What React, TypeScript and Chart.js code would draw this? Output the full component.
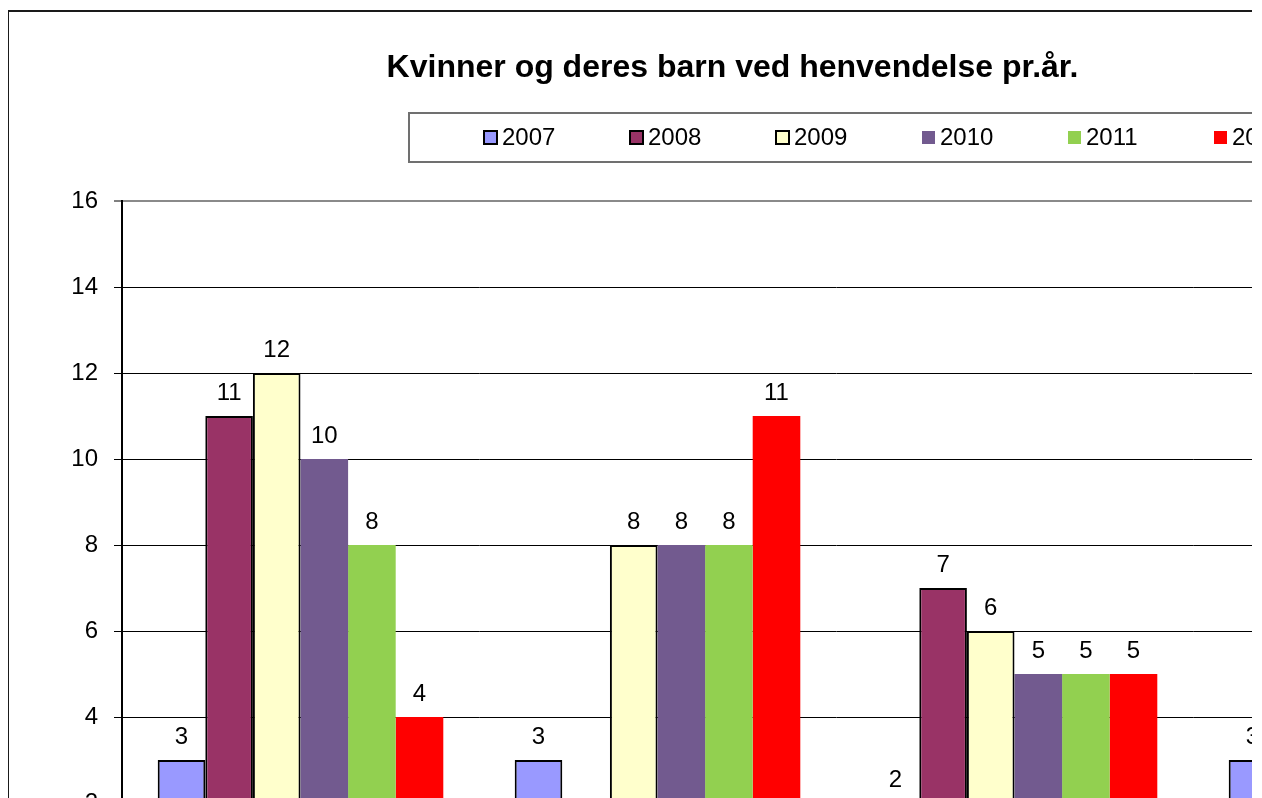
import React, { useEffect, useRef } from "react";
import { Chart, registerables } from "chart.js";

Chart.register(...registerables);

const TITLE = "Kvinner og deres barn ved henvendelse pr.år.";
const categories = ["Kvinner", "Barn", "Kvinner med barn", "Andre"];
const years = ["2007", "2008", "2009", "2010", "2011", "2012"];
const values2007 = [3, 3, 2, 3];
const values2008 = [11, null, 7, 4];
const values2009 = [12, 8, 6, 5];
const values2010 = [10, 8, 5, 4];
const values2011 = [8, 8, 5, 3];
const values2012 = [4, 11, 5, 2];
const seriesValues = [values2007, values2008, values2009, values2010, values2011, values2012];
const seriesColors = ["#9999FF", "#993366", "#FFFFCC", "#725A8F", "#92D050", "#FF0000"];
const seriesBorders = [2, 2, 2, 0, 0, 0];
const yTicks = [0, 2, 4, 6, 8, 10, 12, 14, 16];

const FONT = "'Liberation Sans', Arial, sans-serif";
const W = 1600;
const H = 1000;

const decorPlugin = {
  id: "decor",
  beforeDraw(chart: any) {
    const ctx = chart.ctx;
    ctx.save();
    ctx.fillStyle = "#ffffff";
    ctx.fillRect(0, 0, chart.width, chart.height);
    ctx.restore();
  },
  afterDatasetsDraw(chart: any) {
    const ctx = chart.ctx;
    ctx.save();
    ctx.font = `24px ${FONT}`;
    ctx.fillStyle = "#000000";
    ctx.textAlign = "center";
    ctx.textBaseline = "alphabetic";
    chart.data.datasets.forEach((ds: any, i: number) => {
      const meta = chart.getDatasetMeta(i);
      meta.data.forEach((el: any, j: number) => {
        const v = ds.data[j];
        if (v === null || v === undefined) return;
        ctx.fillText(String(v), el.x, el.y - 16);
      });
    });
    ctx.restore();
  },
  afterDraw(chart: any) {
    const ctx = chart.ctx;
    ctx.save();
    // outer frame
    ctx.strokeStyle = "#1a1a1a";
    ctx.lineWidth = 2;
    ctx.strokeRect(1, 1, chart.width - 2, chart.height - 2);
    // title
    ctx.font = `bold 32px ${FONT}`;
    ctx.fillStyle = "#000000";
    ctx.textAlign = "center";
    ctx.textBaseline = "alphabetic";
    ctx.fillText(TITLE, 725.5, 67);
    // legend box
    ctx.strokeStyle = "#707070";
    ctx.lineWidth = 2;
    ctx.strokeRect(402, 103, 960, 49);
    ctx.font = `24px ${FONT}`;
    ctx.textAlign = "left";
    ctx.textBaseline = "middle";
    chart.data.datasets.forEach((ds: any, i: number) => {
      const x = 477 + i * 146;
      const y = 121;
      ctx.fillStyle = ds.backgroundColor;
      ctx.fillRect(x, y, 13, 13);
      if (ds.borderWidth > 0) {
        ctx.strokeStyle = "#000000";
        ctx.lineWidth = 2;
        ctx.strokeRect(x, y, 13, 13);
      }
      ctx.fillStyle = "#000000";
      ctx.fillText(ds.label, x + 18, 128);
    });
    ctx.restore();
  },
};

export default function App() {
  const ref = useRef<HTMLCanvasElement | null>(null);

  useEffect(() => {
    if (!ref.current) return;
    const chart = new Chart(ref.current, {
      type: "bar",
      data: {
        labels: categories,
        datasets: years.map((y, i) => ({
          label: y,
          data: seriesValues[i],
          backgroundColor: seriesColors[i],
          borderColor: "#000000",
          borderWidth: seriesBorders[i],
          categoryPercentage: 0.8,
          barPercentage: 1.0,
        })),
      },
      options: {
        responsive: false,
        animation: false,
        devicePixelRatio: 1,
        layout: { padding: { top: 191, left: 0, right: 57, bottom: 0 }, autoPadding: false },
        plugins: {
          legend: { display: false },
          title: { display: false },
          tooltip: { enabled: false },
        },
        scales: {
          x: {
            grid: { display: false },
            border: { display: true, color: "#000000", width: 1 },
            ticks: { color: "#000000", font: { family: FONT, size: 24 } },
            afterFit(scale: any) {
              scale.height = H - 879;
            },
          },
          y: {
            min: 0,
            max: 16,
            afterBuildTicks(scale: any) {
              scale.ticks = yTicks.map((v) => ({ value: v }));
            },
            grid: {
              color: (c: any) => (c.tick && c.tick.value === 16 ? "#8a8a8a" : "#000000"),
              lineWidth: (c: any) => (c.tick && c.tick.value === 16 ? 2 : 1),
              tickColor: "#000000",
              tickLength: 8,
              tickWidth: 1,
            },
            border: { display: true, color: "#000000", width: 2 },
            ticks: {
              color: "#000000",
              padding: 16,
              font: { family: FONT, size: 24 },
            },
            afterFit(scale: any) {
              scale.width = 115;
            },
          },
        },
      },
      plugins: [decorPlugin],
    });
    return () => chart.destroy();
  }, []);

  return (
    <div style={{ width: 1244, height: 790, overflow: "hidden", position: "relative" }}>
      <div style={{ position: "absolute", left: -1, top: 2, width: W, height: H }}>
        <canvas ref={ref} width={W} height={H} style={{ display: "block", width: W, height: H }} />
      </div>
    </div>
  );
}
